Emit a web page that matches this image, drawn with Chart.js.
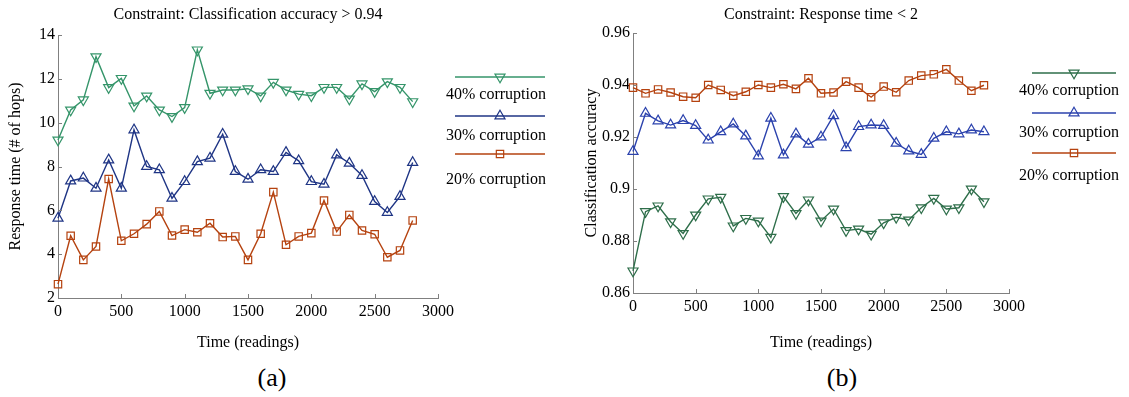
<!DOCTYPE html>
<html>
<head>
<meta charset="utf-8">
<script src="https://cdn.jsdelivr.net/npm/chart.js@4.4.1/dist/chart.umd.min.js"></script>
<style>
  body { margin: 0; background: #fff; width: 1129px; height: 397px; position: relative; overflow: hidden; font-family: 'Liberation Serif', 'Times New Roman', serif; }
  canvas { position: absolute; top: 0; }
  #chartA { left: 0; }
  #chartB { left: 565px; }
  .sub { position: absolute; top: 363px; font-size: 26px; line-height: 30px; transform: translateX(-50%); }
</style>
</head>
<body>
<canvas id="chartA" width="560" height="360"></canvas>
<canvas id="chartB" width="564" height="360"></canvas>
<div class="sub" style="left:272px">(a)</div>
<div class="sub" style="left:842px">(b)</div>
<script>
let times = [0, 100, 200, 300, 400, 500, 600, 700, 800, 900, 1000, 1100, 1200, 1300, 1400,
             1500, 1600, 1700, 1800, 1900, 2000, 2100, 2200, 2300, 2400, 2500, 2600, 2700, 2800];
let seriesNames = ['40% corruption', '30% corruption', '20% corruption'];

// response time (# of hops), accuracy constraint
let hops40 = [9.21, 10.58, 11.04, 13.01, 11.6, 12.02, 10.76, 11.22, 10.58, 10.28, 10.69, 13.32, 11.34, 11.49, 11.49,
              11.55, 11.22, 11.84, 11.49, 11.3, 11.23, 11.61, 11.61, 11.08, 11.77, 11.42, 11.87, 11.61, 10.96];
let hops30 = [5.64, 7.34, 7.47, 7.01, 8.30, 7.01, 9.67, 8.0, 7.85, 6.55, 7.31, 8.22, 8.38, 9.47, 7.77,
              7.42, 7.85, 7.77, 8.64, 8.26, 7.31, 7.19, 8.53, 8.15, 7.59, 6.40, 5.90, 6.63, 8.18];
let hops20 = [2.63, 4.84, 3.74, 4.35, 7.43, 4.61, 4.93, 5.37, 5.95, 4.85, 5.12, 5.0, 5.41, 4.78, 4.81,
              3.74, 4.93, 6.83, 4.43, 4.81, 4.96, 6.45, 5.03, 5.79, 5.08, 4.91, 3.86, 4.17, 5.54];

// classification accuracy, response time constraint
let acc40 = [0.8685, 0.8913, 0.8935, 0.8874, 0.8829, 0.89, 0.8962, 0.8968, 0.8858, 0.8887, 0.8877, 0.8814, 0.8971, 0.8906, 0.8958,
             0.8877, 0.8923, 0.884, 0.8846, 0.8826, 0.887, 0.8891, 0.8881, 0.8928, 0.8964, 0.8923, 0.8928, 0.90, 0.8951];
let acc30 = [0.9144, 0.9291, 0.9262, 0.9246, 0.9263, 0.9244, 0.9188, 0.922, 0.925, 0.9204, 0.9127, 0.9272, 0.9131, 0.9212, 0.9172,
             0.92, 0.9282, 0.9159, 0.924, 0.9246, 0.9244, 0.9176, 0.9146, 0.9133, 0.9195, 0.922, 0.9212, 0.9227, 0.922];
let acc20 = [0.939, 0.9368, 0.9383, 0.9371, 0.9355, 0.9351, 0.94, 0.9381, 0.9359, 0.9374, 0.94, 0.939, 0.9403, 0.9385, 0.9426,
             0.9368, 0.9371, 0.9413, 0.939, 0.9353, 0.9394, 0.9372, 0.9417, 0.9436, 0.9441, 0.946, 0.9417, 0.9378, 0.9399];

let xTicks = [0, 500, 1000, 1500, 2000, 2500, 3000];
let hopTicks = [2, 4, 6, 8, 10, 12, 14];
let accTicks = [0.86, 0.88, 0.9, 0.92, 0.94, 0.96];

const serif = "'Liberation Serif', 'Times New Roman', serif";
const textFont = {family: serif, size: 16};
Chart.defaults.font.family = serif;
Chart.defaults.font.size = 16;
Chart.defaults.color = '#000';

function points(ys) {
  return times.map((t, i) => ({x: t, y: ys[i]}));
}

function series(label, ys, color, style, rot) {
  return {
    label: label,
    data: points(ys),
    borderColor: color,
    backgroundColor: 'rgba(0,0,0,0)',
    borderWidth: 1.4,
    pointStyle: style,
    pointRotation: rot,
    pointRadius: style === 'rect' ? 5.2 : 5.8,
    pointBorderWidth: 1.2,
    pointBackgroundColor: 'rgba(0,0,0,0)',
    tension: 0,
    clip: false
  };
}

// title, inward tick marks and the legend at the right of the plot
const decor = {
  id: 'decor',
  afterDraw(chart, args, opts) {
    const ctx = chart.ctx, a = chart.chartArea, sx = chart.scales.x, sy = chart.scales.y;
    ctx.save();
    ctx.fillStyle = '#000';
    ctx.font = '16px ' + serif;
    ctx.textAlign = 'center';
    ctx.textBaseline = 'middle';
    ctx.fillText(opts.title, (a.left + a.right) / 2, opts.titleY);

    ctx.strokeStyle = '#808080';
    ctx.lineWidth = 1;
    ctx.beginPath();
    sx.ticks.forEach(t => {
      const px = Math.round(sx.getPixelForValue(t.value)) + 0.5;
      ctx.moveTo(px, a.bottom);
      ctx.lineTo(px, a.bottom - 4);
    });
    sy.ticks.forEach(t => {
      const py = Math.round(sy.getPixelForValue(t.value)) + 0.5;
      ctx.moveTo(a.left, py);
      ctx.lineTo(a.left + 4, py);
    });
    ctx.stroke();

    chart.data.datasets.forEach((ds, i) => {
      const ly = a.top + opts.lineRows[i];
      const ty = a.top + opts.textRows[i];
      const x1 = a.right + opts.lineFrom, x2 = a.right + opts.lineTo;
      ctx.strokeStyle = ds.borderColor;
      ctx.lineWidth = ds.borderWidth;
      ctx.beginPath();
      ctx.moveTo(x1, ly);
      ctx.lineTo(x2, ly);
      ctx.stroke();
      ctx.lineWidth = ds.pointBorderWidth;
      ctx.fillStyle = 'rgba(0,0,0,0)';
      Chart.helpers.drawPoint(ctx, {
        pointStyle: ds.pointStyle, rotation: ds.pointRotation,
        radius: ds.pointRadius, borderWidth: ds.pointBorderWidth
      }, (x1 + x2) / 2, ly);
      ctx.fillStyle = '#000';
      ctx.textAlign = 'right';
      ctx.fillText(ds.label, a.right + opts.textRight, ty);
    });
    ctx.restore();
  }
};

function axes(yTicks, yTitle, yWidth, xHeight, yTitlePad) {
  return {
    x: {
      type: 'linear', min: 0, max: 3000,
      afterBuildTicks: s => { s.ticks = xTicks.map(v => ({value: v})); },
      afterFit: s => { s.height = xHeight; },
      grid: {display: false, drawTicks: false},
      border: {color: '#808080', width: 1},
      ticks: {padding: 4, maxRotation: 0, autoSkip: false, font: textFont, color: '#000', callback: v => String(v)},
      title: {display: true, text: 'Time (readings)', font: textFont, color: '#000', padding: {top: 0, bottom: 8}}
    },
    y: {
      type: 'linear', min: yTicks[0], max: yTicks[yTicks.length - 1],
      afterBuildTicks: s => { s.ticks = yTicks.map(v => ({value: v})); },
      afterFit: s => { s.width = yWidth; },
      grid: {display: false, drawTicks: false},
      border: {color: '#808080', width: 1},
      ticks: {padding: 3, font: textFont, color: '#000', callback: v => String(v)},
      title: {display: true, text: yTitle, font: textFont, color: '#000', padding: {top: yTitlePad, bottom: 0}}
    }
  };
}

new Chart(document.getElementById('chartA'), {
  type: 'line',
  data: {
    datasets: [
      series(seriesNames[0], hops40, '#35956a', 'triangle', 180),
      series(seriesNames[1], hops30, '#1f3585', 'triangle', 0),
      series(seriesNames[2], hops20, '#b5420f', 'rect', 0)
    ]
  },
  options: {
    responsive: false, animation: false, devicePixelRatio: 1,
    layout: {padding: {top: 35, right: 122, bottom: 0, left: 0}},
    scales: axes(hopTicks, 'Response time (# of hops)', 58, 62, 6),
    plugins: {
      legend: {display: false}, tooltip: {enabled: false},
      decor: {
        title: 'Constraint: Classification accuracy > 0.94', titleY: 14.5,
        lineRows: [42, 81, 119], textRows: [60, 101, 145],
        lineFrom: 17, lineTo: 107, textRight: 108
      }
    }
  },
  plugins: [decor]
});

new Chart(document.getElementById('chartB'), {
  type: 'line',
  data: {
    datasets: [
      series(seriesNames[0], acc40, '#2e6e4a', 'triangle', 180),
      series(seriesNames[1], acc30, '#2b42ad', 'triangle', 0),
      series(seriesNames[2], acc20, '#b5420f', 'rect', 0)
    ]
  },
  options: {
    responsive: false, animation: false, devicePixelRatio: 1,
    layout: {padding: {top: 33, right: 120, bottom: 0, left: 0}},
    scales: axes(accTicks, 'Classification accuracy', 68, 67, 17),
    plugins: {
      legend: {display: false}, tooltip: {enabled: false},
      decor: {
        title: 'Constraint: Response time < 2', titleY: 14.5,
        lineRows: [40, 80, 120], textRows: [58, 100, 143],
        lineFrom: 23, lineTo: 107, textRight: 110
      }
    }
  },
  plugins: [decor]
});
</script>
</body>
</html>
